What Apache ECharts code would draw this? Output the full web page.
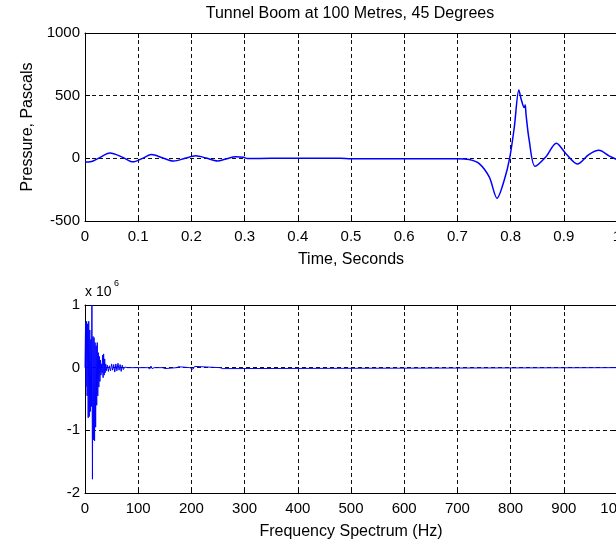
<!DOCTYPE html>
<html>
<head>
<meta charset="utf-8">
<script src="https://cdn.jsdelivr.net/npm/echarts@6/dist/echarts.min.js"></script>
<style>
  html, body { margin: 0; padding: 0; background: #fff; }
  #chart { width: 616px; height: 543px; }
</style>
</head>
<body>
<div id="chart"></div>
<script>
// Pressure trace of the tunnel boom (seconds, pascals)
const timeS = [
  0.000, 0.010, 0.025, 0.047, 0.070, 0.090, 0.108, 0.125, 0.145, 0.167,
  0.188, 0.208, 0.228, 0.249, 0.265, 0.283, 0.298, 0.305, 0.350, 0.480,
  0.500, 0.600, 0.700, 0.722, 0.741, 0.760, 0.7745, 0.788, 0.7986, 0.807,
  0.8155, 0.8200, 0.8255, 0.8275, 0.8290, 0.835, 0.846, 0.866, 0.886, 0.904,
  0.9256, 0.947, 0.966, 0.985, 1.000
];
const pressurePa = [
  -30, -28, 0, 42, 10, -28, 0, 30, 5, -22,
  0, 20, 2, -22, -5, 12, 8, -2, 0, 0,
  -4, -3, -3, -10, -42, -150, -318, -175, 10, 250,
  545, 470, 405, 425, 350, 143, -64, 10, 120, 37,
  -45, 30, 64, 20, -10
];

// Frequency spectrum (Hz, amplitude in units of 10^6)
const freqHz = [
  0, 1, 2, 3, 4, 5, 6, 7, 8, 9,
  10, 11, 12, 13, 14, 15, 16, 17, 18, 19,
  20, 21, 22, 23, 24, 25, 26, 27, 28, 29,
  30, 31, 32, 33, 34, 35, 36, 37, 38, 39,
  40, 42, 44, 46, 48, 50, 52, 54, 56, 58,
  60, 62, 64, 66, 68, 70, 72, 75, 80,
  118, 120, 122, 124, 126, 128, 130,
  146, 148, 150, 152,
  172, 174, 176, 178,
  197, 200, 203, 206, 209,
  254, 256, 258, 260,
  1000
];
const spectrumE6 = [
  0, 0.72, -0.30, 0.74, -0.45, 0.70, -0.80, 0.74, -0.78, 0.60,
  -0.70, 0.45, -0.62, 1.00, -1.78, 0.50, -1.15, 0.48, -1.17, 0.40,
  -0.95, 0.35, -0.60, 0.40, -0.45, 0.24, -0.31, 0.18, -0.22, 0.12,
  -0.12, 0.06, -0.08, 0.20, -0.16, 0.22, -0.12, 0.14, -0.08, 0.06,
  -0.05, 0.04, -0.06, 0.03, -0.05, 0.06, -0.04, 0.05, -0.07, 0.06,
  -0.05, 0.07, -0.04, 0.05, -0.06, 0.04, -0.03, 0.01, 0,
  0, 0.03, -0.02, 0.025, -0.015, 0.01, 0,
  0, 0.02, -0.015, 0,
  0, -0.02, 0.015, 0,
  0, 0.02, -0.025, 0.02, 0,
  0, 0.02, -0.015, 0,
  0
];

const topTicks = { min: -500, max: 1000, interval: 500 };
const bottomTicks = { min: -2, max: 1, interval: 1 };

const FONT = "'Liberation Sans', Arial, sans-serif";
const gridDash = { color: '#111', width: 1, type: [4, 3] };
const frameLine = { show: true, onZero: false, lineStyle: { color: '#000', width: 1 } };
const innerTick = { show: true, inside: true, length: 5, lineStyle: { color: '#000' } };
const tickLabel = { color: '#000', fontFamily: FONT, fontSize: 15, formatter: v => String(v) };

function mainX(grid, min, max, interval, name) {
  return {
    gridIndex: grid, type: 'value', position: 'bottom', min, max, interval,
    axisLine: frameLine, axisTick: innerTick,
    axisLabel: Object.assign({ margin: 8, hideOverlap: false }, tickLabel),
    splitLine: { show: true, lineStyle: gridDash },
    name, nameLocation: 'middle', nameGap: 31,
    nameTextStyle: { color: '#000', fontFamily: FONT, fontSize: 16 }
  };
}
function mirrorX(grid, min, max, interval) {
  return {
    gridIndex: grid, type: 'value', position: 'top', min, max, interval,
    axisLine: frameLine, axisTick: innerTick,
    axisLabel: { show: false }, splitLine: { show: false }
  };
}
function mainY(grid, t, name) {
  return {
    gridIndex: grid, type: 'value', position: 'left',
    min: t.min, max: t.max, interval: t.interval,
    axisLine: frameLine, axisTick: innerTick,
    axisLabel: Object.assign({ margin: 5 }, tickLabel),
    splitLine: { show: true, lineStyle: gridDash },
    name, nameLocation: 'middle', nameGap: 49,
    nameTextStyle: { color: '#000', fontFamily: FONT, fontSize: 16 }
  };
}
function mirrorY(grid, t) {
  return {
    gridIndex: grid, type: 'value', position: 'right',
    min: t.min, max: t.max, interval: t.interval,
    axisLine: frameLine, axisTick: innerTick,
    axisLabel: { show: false }, splitLine: { show: false }
  };
}

const chart = echarts.init(document.getElementById('chart'), null, { renderer: 'canvas' });

chart.setOption({
  animation: false,
  backgroundColor: '#fff',
  grid: [
    { left: 85, top: 33, width: 532, height: 188, containLabel: false, outerBoundsMode: 'none' },
    { left: 85, top: 305, width: 532, height: 188, containLabel: false, outerBoundsMode: 'none' }
  ],
  xAxis: [
    mainX(0, 0, 1, 0.1, 'Time, Seconds'),
    mirrorX(0, 0, 1, 0.1),
    mainX(1, 0, 1000, 100, 'Frequency Spectrum (Hz)'),
    mirrorX(1, 0, 1000, 100)
  ],
  yAxis: [
    mainY(0, topTicks, 'Pressure, Pascals'),
    mirrorY(0, topTicks),
    mainY(1, bottomTicks, ''),
    mirrorY(1, bottomTicks)
  ],
  graphic: [
    {
      type: 'text', x: 350, y: 14,
      style: { text: 'Tunnel Boom at 100 Metres, 45 Degrees', font: '16px ' + FONT,
               fill: '#000', textAlign: 'center', textVerticalAlign: 'middle' }
    },
    {
      type: 'text', x: 85, y: 292,
      style: { text: 'x 10', font: '14px ' + FONT, fill: '#000',
               textAlign: 'left', textVerticalAlign: 'middle' }
    },
    {
      type: 'text', x: 114, y: 284,
      style: { text: '6', font: '9px ' + FONT, fill: '#000',
               textAlign: 'left', textVerticalAlign: 'middle' }
    }
  ],
  series: [
    {
      type: 'line', xAxisIndex: 0, yAxisIndex: 0,
      data: timeS.map((t, i) => [t, pressurePa[i]]),
      showSymbol: false, smooth: 0.3,
      lineStyle: { color: '#0000ff', width: 1.5 }
    },
    {
      type: 'line', xAxisIndex: 2, yAxisIndex: 2,
      data: freqHz.map((f, i) => [f, spectrumE6[i]]),
      showSymbol: false,
      lineStyle: { color: '#0000ff', width: 1 }
    }
  ]
});
</script>
</body>
</html>
